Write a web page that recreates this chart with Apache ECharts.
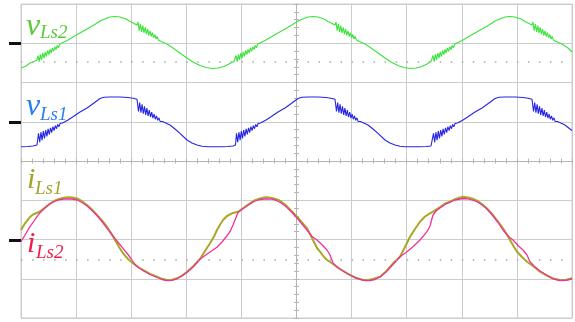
<!DOCTYPE html>
<html>
<head>
<meta charset="utf-8">
<script src="https://cdn.jsdelivr.net/npm/echarts@6/dist/echarts.min.js"></script>
<style>html,body{margin:0;padding:0;background:#fff}#c{width:575px;height:322px}</style>
</head>
<body>
<div id="c"></div>
<script>
// time axis: samples across 10 divisions (0..551); values relative to each channel's ground level
const vLs2 = [[0,-25],[5,-23],[9,-20],[13,-18.5],[16,-17],
[17,-12.5],[18.2,-18.6],[19.4,-11.3],[20.6,-16.9],[21.8,-10],[23,-15.2],[24.2,-8.8],[25.4,-13.5],[26.6,-7.5],[27.8,-11.7],[29,-6.3],[30.2,-10],[31.4,-5],[32.6,-8.3],[33.8,-3.8],[35,-6.5],[36.2,-2.5],[37.4,-4.8],[38.6,-1.3],[39.8,-3.1],[41,0],[42.5,-0.2],
[47,3],[52,6],[59,10],[66,14],[73,18],[79,22],[85,24.5],[89,26],[94,26.5],[99,26],[105,24],[109,21.5],[113,19.5],[116,18],
[117,21],[118.2,12.4],[119.4,19.2],[120.6,11.2],[121.8,17.4],[123,10],[124.2,15.6],[125.4,8.8],[126.6,13.9],[127.8,7.7],[129,12.1],[130.2,6.5],[131.4,10.3],[132.6,5.3],[133.8,8.5],[135,4.1],[136.2,6.7],[137.4,2.9],[138.6,4.9],[139.8,1.7],[141,2.1],
[146,-1],[152,-5],[159,-10],[166,-15],[172,-19],[179,-22.5],[185,-24.5],[191,-25.5],[197,-25],[203,-23.5],[208,-21],[213,-18.5],
[215,-12.5],[216.2,-18.6],[217.4,-11.3],[218.6,-16.9],[219.8,-10],[221,-15.2],[222.2,-8.8],[223.4,-13.5],[224.6,-7.5],[225.8,-11.7],[227,-6.3],[228.2,-10],[229.4,-5],[230.6,-8.3],[231.8,-3.8],[233,-6.5],[234.2,-2.5],[235.4,-4.8],[236.6,-1.3],[237.8,-3.1],[239,0],[240.5,-0.2],
[245,3],[250,6],[257,10],[264,14],[271,18],[277,22],[283,24.5],[287,26],[292,26.5],[297,26],[303,24],[307,21.5],[311,19.5],[314,18],
[315,21],[316.2,12.4],[317.4,19.2],[318.6,11.2],[319.8,17.4],[321,10],[322.2,15.6],[323.4,8.8],[324.6,13.9],[325.8,7.7],[327,12.1],[328.2,6.5],[329.4,10.3],[330.6,5.3],[331.8,8.5],[333,4.1],[334.2,6.7],[335.4,2.9],[336.6,4.9],[337.8,1.7],[339,2.1],
[344,-1],[350,-5],[357,-10],[364,-15],[370,-19],[377,-22.5],[383,-24.5],[389,-25.5],[395,-25],[401,-23.5],[406,-21],[410,-18.5],
[412,-12.5],[413.2,-18.6],[414.4,-11.3],[415.6,-16.9],[416.8,-10],[418,-15.2],[419.2,-8.8],[420.4,-13.5],[421.6,-7.5],[422.8,-11.7],[424,-6.3],[425.2,-10],[426.4,-5],[427.6,-8.3],[428.8,-3.8],[430,-6.5],[431.2,-2.5],[432.4,-4.8],[433.6,-1.3],[434.8,-3.1],[436,0],[437.5,-0.2],
[442,3],[447,6],[454,10],[461,14],[468,18],[474,22],[480,24.5],[484,26],[489,26.5],[494,26],[500,24],[504,21.5],[508,19.5],[511,18],
[512,21],[513.2,12.4],[514.4,19.2],[515.6,11.2],[516.8,17.4],[518,10],[519.2,15.6],[520.4,8.8],[521.6,13.9],[522.8,7.7],[524,12.1],[525.2,6.5],[526.4,10.3],[527.6,5.3],[528.8,8.5],[530,4.1],[531.2,6.7],[532.4,2.9],[533.6,4.9],[534.8,1.7],[536,2.1],
[541,-1],[547,-5],[551,-9]];

const vLs1 = [[0,-24.7],[7,-24.5],[12,-24],[16,-23],
[17,-22.5],[17.5,-11.3],[18.7,-20.1],[19.9,-10.2],[21.1,-18.2],[22.3,-9.1],[23.5,-16.3],[24.7,-8],[25.9,-14.4],[27.1,-6.9],[28.3,-12.5],[29.5,-5.8],[30.7,-10.5],[31.9,-4.7],[33.1,-8.6],[34.3,-3.6],[35.5,-6.7],[36.7,-2.5],[37.9,-4.8],[39.1,-1.4],[40.3,-2.9],[41.5,-1],
[47,2],[52,5.3],[59,10],[66,14],[73,19],[79,23.5],[83,24.7],[89,25],[99,25],[107,24.5],[112,23.7],[116,22.7],
[117,22],[117.5,10.5],[118.7,19.5],[119.9,9.4],[121.1,17.6],[122.3,8.3],[123.5,15.7],[124.7,7.2],[125.9,13.8],[127.1,6.1],[128.3,11.9],[129.5,5],[130.7,9.9],[131.9,3.9],[133.1,8],[134.3,2.8],[135.5,6.1],[136.7,1.7],[137.9,4.2],[139.1,0.6],[140.3,2.3],[141.5,0.5],
[149,-3],[154,-7],[159,-11.3],[166,-18],[171,-21],[176,-23],[181,-24.2],[186,-24.7],[194,-24.8],[201,-24.7],[207,-24.5],[212,-24],[214.5,-23],
[215,-22.5],[215.5,-11.3],[216.7,-20.1],[217.9,-10.2],[219.1,-18.2],[220.3,-9.1],[221.5,-16.3],[222.7,-8],[223.9,-14.4],[225.1,-6.9],[226.3,-12.5],[227.5,-5.8],[228.7,-10.5],[229.9,-4.7],[231.1,-8.6],[232.3,-3.6],[233.5,-6.7],[234.7,-2.5],[235.9,-4.8],[237.1,-1.4],[238.3,-2.9],[239.5,-1],
[245,2],[250,5.3],[257,10],[264,14],[271,19],[277,23.5],[281,24.7],[287,25],[297,25],[305,24.5],[310,23.7],[314,22.7],
[315,22],[315.5,10.5],[316.7,19.5],[317.9,9.4],[319.1,17.6],[320.3,8.3],[321.5,15.7],[322.7,7.2],[323.9,13.8],[325.1,6.1],[326.3,11.9],[327.5,5],[328.7,9.9],[329.9,3.9],[331.1,8],[332.3,2.8],[333.5,6.1],[334.7,1.7],[335.9,4.2],[337.1,0.6],[338.3,2.3],[339.5,0.5],
[347,-3],[352,-7],[357,-11.3],[364,-18],[369,-21],[374,-23],[379,-24.2],[384,-24.7],[392,-24.8],[399,-24.7],[405,-24.5],[410,-24],[411.5,-23],
[412,-22.5],[412.5,-11.3],[413.7,-20.1],[414.9,-10.2],[416.1,-18.2],[417.3,-9.1],[418.5,-16.3],[419.7,-8],[420.9,-14.4],[422.1,-6.9],[423.3,-12.5],[424.5,-5.8],[425.7,-10.5],[426.9,-4.7],[428.1,-8.6],[429.3,-3.6],[430.5,-6.7],[431.7,-2.5],[432.9,-4.8],[434.1,-1.4],[435.3,-2.9],[436.5,-1],
[442,2],[447,5.3],[454,10],[461,14],[468,19],[474,23.5],[478,24.7],[484,25],[494,25],[502,24.5],[507,23.7],[511,22.7],
[512,22],[512.5,10.5],[513.7,19.5],[514.9,9.4],[516.1,17.6],[517.3,8.3],[518.5,15.7],[519.7,7.2],[520.9,13.8],[522.1,6.1],[523.3,11.9],[524.5,5],[525.7,9.9],[526.9,3.9],[528.1,8],[529.3,2.8],[530.5,6.1],[531.7,1.7],[532.9,4.2],[534.1,0.6],[535.3,2.3],[536.5,0.5],
[544,-3],[549,-7],[551,-8.5]];

const iLs1 = [[0,10],[4,16.7],[9,23],[12,25.5],[19,28.5],[24,32.5],[29,36.5],[34,39.5],[39,41.2],[43,42.3],[47,42.8],[51,42.5],[56,41.5],[61,38.8],[66,35],[71,30.5],[76,25],[81,19.5],[86,13.3],[90,7],[94,0],[98,-7],[102,-13.3],[107,-19],[112,-23.3],[117,-27],[122,-30],[129,-33.8],[136,-36.7],[141,-38.8],[146,-40],[151,-39.8],[156,-38.3],[161,-35.5],[166,-31.7],[172,-26.5],[179,-19],[184,-11],[189,-3.3],[193,3.5],[196,10],[199,15.3],[202,20],[206,24],[211,26.7],[217,28.3],
[223,32.5],[229,36.7],[234,39.8],[239,41.5],[243,42.5],[246,42.8],[251,42],[256,40.5],[259,39.3],[264,35.5],[269,30.5],[276,23.3],[281,17.5],[286,11.7],[289,6],[292,0],[296,-8],[299,-11.7],[303,-17],[306,-20],[312,-24],[319,-29],[326,-33.3],[334,-37.5],[342,-40],[347,-40],[352,-39],[359,-36.7],[365,-31.5],[372,-23.3],[379,-16.7],[384,-7],[389,3.3],[394,11],[399,18.3],[404,23.5],[409,26.7],[412,28.3],
[419,33],[424,36.5],[429,38.3],[434,40.8],[439,42.5],[442,43.3],[447,42.6],[451,41.5],[456,39.3],[461,36],[466,31.5],[472,25],[477,18.5],[482,11.7],[486,5.5],[489,0],[493,-7],[496,-11.7],[501,-17],[506,-21.7],[512,-26],[519,-31.7],[526,-35.5],[532,-38.5],[539,-40],[545,-39.8],[551,-38.3]];

const iLs2 = [[0,-1.7],[4,5],[9,13.3],[13,19],[16,23.3],[19,27.3],[24,32],[29,36],[34,38.8],[39,40.3],[43,41],[47,41.2],[51,41],[56,40],[61,37.5],[66,34],[71,29.5],[76,24.5],[81,18.5],[86,11.7],[90,6.5],[94,1.7],[98,-3.5],[102,-8.3],[107,-14.5],[111,-20],[114,-24.5],[117,-27.3],[122,-30.5],[129,-34.5],[136,-37.5],[141,-39.5],[146,-40.7],[151,-40.3],[156,-38.8],[161,-36],[166,-32.5],[172,-27],[179,-19.3],[184,-15.5],[189,-12],[196,-7.3],[201,-2],[205,3],[209,8.3],[212,15],[215,22.5],[217,27.5],
[223,32],[229,36],[234,39],[239,40.5],[243,41],[246,41.2],[251,40.8],[256,39.3],[261,36.5],[266,32.5],[271,27.5],[276,22],[281,16],[286,10],[291,3.5],[296,0],[301,-4.7],[306,-10],[309,-15],[312,-23],[316,-27],[321,-30.5],[329,-35],[336,-38.3],[344,-40.7],[349,-40.5],[354,-39.5],[359,-37],[365,-32],[372,-24.5],[379,-16.7],[385,-12.5],[392,-6.7],[399,0],[406,8.3],[409,14],[412,25],[415,29],
[419,32],[424,35.5],[429,37.8],[434,40],[439,41],[442,41.5],[447,41.2],[451,40],[456,38.3],[461,35],[466,31],[472,24],[477,17.5],[482,10],[487,4],[492,0],[497,-5.5],[502,-10],[506,-15],[509,-21.7],[513,-26],[519,-31],[526,-35.5],[532,-38.8],[539,-40.5],[545,-40.3],[551,-39]];

const grounds = {vLs2: 275, vLs1: 196, i: 78};
const refLevels = [256, 58];

const shift = (arr, g) => arr.map(p => [p[0], p[1] + g]);
const GRID = '#cccccc';
const chart = echarts.init(document.getElementById('c'), null, {renderer: 'canvas'});

const baseX = {type:'value', min:0, max:551, axisLabel:{show:false}, splitLine:{show:false}, axisLine:{show:false}, axisTick:{show:false}};
const baseY = {type:'value', min:0, max:314, axisLabel:{show:false}, splitLine:{show:false}, axisLine:{show:false}, axisTick:{show:false}};
const font = '"Liberation Serif","DejaVu Serif",serif';
function lab(x, y, t, size, color){
  return {type:'text', x:x, y:y, z:100, style:{text:t, font:'italic ' + size + 'px ' + font, fill:color, verticalAlign:'middle', align:'left'}};
}

chart.setOption({
  animation:false,
  backgroundColor:'#ffffff',
  grid:{left:21, top:4, width:551, height:314, show:true, borderColor:GRID, borderWidth:1, containLabel:false, outerBoundsMode:'none'},
  xAxis:[
    Object.assign({}, baseX, {interval:55.1, splitLine:{show:true, lineStyle:{color:GRID, width:1}}}),
    Object.assign({}, baseX, {interval:11.02, position:'bottom', offset:-157, axisLine:{show:true, lineStyle:{color:'#b4b4b4', width:1}}, axisTick:{show:true, length:2.5, lineStyle:{color:'#b4b4b4'}}}),
    Object.assign({}, baseX, {interval:11.02, position:'bottom', offset:-157, axisTick:{show:true, inside:true, length:2.5, lineStyle:{color:'#b4b4b4'}}})
  ],
  yAxis:[
    Object.assign({}, baseY, {interval:39.25, splitLine:{show:true, lineStyle:{color:GRID, width:1}}}),
    Object.assign({}, baseY, {position:'left', axisTick:{show:true, customValues:[grounds.vLs2, grounds.vLs1, grounds.i], length:12, lineStyle:{color:'#111111', width:3}}}),
    Object.assign({}, baseY, {interval:7.85, position:'left', offset:-275.5, axisLine:{show:true, lineStyle:{color:'#b4b4b4', width:1}}, axisTick:{show:true, length:2.5, lineStyle:{color:'#b4b4b4'}}}),
    Object.assign({}, baseY, {interval:7.85, position:'left', offset:-275.5, axisTick:{show:true, inside:true, length:2.5, lineStyle:{color:'#b4b4b4'}}})
  ],
  series:[
    {type:'line', name:'vLs2', data:shift(vLs2, grounds.vLs2), showSymbol:false, lineStyle:{color:'#3be33b', width:1.1}, z:3,
      markLine:{silent:true, symbol:'none', label:{show:false}, lineStyle:{color:'#a8a8a8', type:[1.5,9.52], width:1.5}, data:refLevels.map(v => ({yAxis:v}))}},
    {type:'line', name:'vLs1', data:shift(vLs1, grounds.vLs1), showSymbol:false, lineStyle:{color:'#2626e4', width:1.1}, z:3},
    {type:'line', name:'iLs1', data:shift(iLs1, grounds.i), showSymbol:false, lineStyle:{color:'#a9a823', width:2}, z:3},
    {type:'line', name:'iLs2', data:shift(iLs2, grounds.i), showSymbol:false, lineStyle:{color:'#f2309a', width:1.3}, z:4}
  ],
  graphic:[
    lab(26, 26.5, 'v', 32, '#5cc83c'), lab(40, 33, 'Ls2', 19, '#5cc83c'),
    lab(26, 106.5, 'v', 32, '#2a7ef0'), lab(40, 115, 'Ls1', 19, '#2a7ef0'),
    lab(27, 180.5, 'i', 30, '#a3a22a'), lab(35, 189, 'Ls1', 19, '#a3a22a'),
    lab(27, 244.3, 'i', 30, '#f01c48'), lab(36, 252.5, 'Ls2', 19, '#f01c48')
  ]
});
</script>
</body>
</html>
